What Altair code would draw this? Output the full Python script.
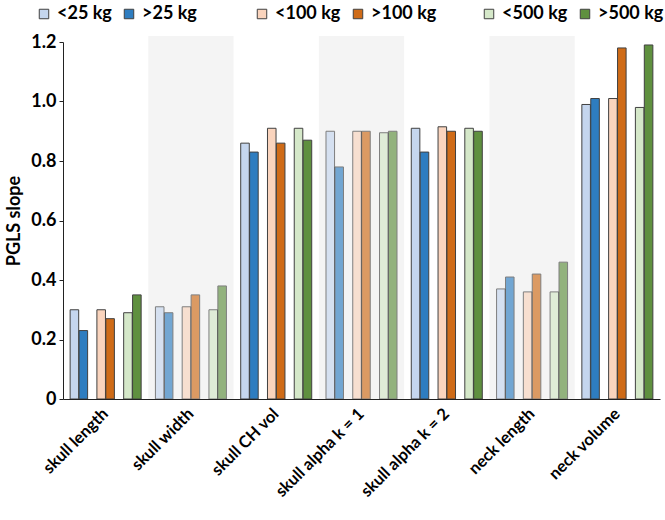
import altair as alt
import pandas as pd

categories = ["skull length", "skull width", "skull CH vol", "skull alpha k = 1",
              "skull alpha k = 2", "neck length", "neck volume"]
shaded = ["skull width", "skull alpha k = 1", "neck length"]

lt25 = [0.30, 0.31, 0.86, 0.90, 0.91, 0.37, 0.99]
gt25 = [0.23, 0.29, 0.83, 0.78, 0.83, 0.41, 1.01]
lt100 = [0.30, 0.31, 0.91, 0.90, 0.915, 0.36, 1.01]
gt100 = [0.27, 0.35, 0.86, 0.90, 0.90, 0.42, 1.18]
lt500 = [0.29, 0.30, 0.91, 0.895, 0.91, 0.36, 0.98]
gt500 = [0.35, 0.38, 0.87, 0.90, 0.90, 0.46, 1.19]

groups = [
    ("g25", "a", "<25 kg", lt25),
    ("g25", "b", ">25 kg", gt25),
    ("g100", "c", "<100 kg", lt100),
    ("g100", "d", ">100 kg", gt100),
    ("g500", "e", "<500 kg", lt500),
    ("g500", "f", ">500 kg", gt500),
]
colors = {
    "g25": ["#c5d6ee", "#2e7dc0"],
    "g100": ["#fad4bd", "#cf6b17"],
    "g500": ["#d5e8c9", "#5f903f"],
}

rows = []
for fam, slot, label, vals in groups:
    for cat, v in zip(categories, vals):
        rows.append({"cat": cat, "fam": fam, "slot": slot, "label": label,
                     "value": v, "shaded": cat in shaded})
df = pd.DataFrame(rows)
bands = pd.DataFrame({"cat": shaded})

W, H = 597, 357
FONT = "Lato"

x_enc = alt.X("cat:N", sort=categories,
              scale=alt.Scale(domain=categories, paddingInner=0, paddingOuter=0),
              axis=alt.Axis(title=None, labelAngle=-45, labelAlign="right",
                            labelBaseline="middle", labelFontSize=16.5,
                            labelFontWeight="bold", labelColor="#000",
                            ticks=False, domainColor="#222", labelPadding=12,
                            labelLimit=0))

background = alt.Chart(bands).mark_rect(color="#f4f4f4").encode(
    x=x_enc,
    y=alt.value(-6),
    y2=alt.value(H),
)

legend_x = {"g25": -28, "g100": 190, "g500": 417}


def bar_layer(fam):
    sub_labels = [g[2] for g in groups if g[0] == fam]
    return alt.Chart(df).transform_filter(
        alt.datum.fam == fam
    ).mark_bar(stroke="#404040", strokeWidth=1).encode(
        x=x_enc,
        xOffset=alt.XOffset("slot:N",
                            scale=alt.Scale(domain=["a", "b", "g1", "c", "d", "g2", "e", "f"],
                                            paddingInner=0.04, paddingOuter=0.8)),
        y=alt.Y("value:Q",
                scale=alt.Scale(domain=[0, 1.2], nice=False),
                axis=alt.Axis(title="PGLS slope", values=[0, 0.2, 0.4, 0.6, 0.8, 1.0, 1.2],
                              labelExpr="datum.value == 0 ? '0' : format(datum.value, '.1f')",
                              grid=False, tickSize=4, tickColor="#222", domainColor="#222",
                              labelFontSize=18, labelFontWeight="bold", labelColor="#000",
                              labelPadding=3, titleFontSize=18, titleFontWeight="bold",
                              titleColor="#000", titlePadding=7)),
        color=alt.Color("label:N",
                        scale=alt.Scale(domain=sub_labels, range=colors[fam]),
                        legend=alt.Legend(title=None, orient="none", direction="horizontal",
                                          legendX=legend_x[fam], legendY=-37,
                                          symbolType="square", symbolSize=90,
                                          symbolStrokeColor="#404040", symbolStrokeWidth=1,
                                          labelFont=FONT, labelFontSize=18,
                                          labelFontWeight="bold", labelColor="#000",
                                          labelOffset=4, columnPadding=8)),
        opacity=alt.condition("datum.shaded", alt.value(0.65), alt.value(1.0)),
    )


chart = alt.layer(
    background, bar_layer("g25"), bar_layer("g100"), bar_layer("g500")
).resolve_scale(
    color="independent"
).properties(
    width=W, height=H,
    autosize=alt.AutoSizeParams(type="none"),
    padding={"left": 63, "top": 42, "right": 5, "bottom": 121},
).configure(
    font=FONT,
).configure_view(
    stroke=None,
)

chart.save("out.html", embed_options={"renderer": "svg", "actions": False})
